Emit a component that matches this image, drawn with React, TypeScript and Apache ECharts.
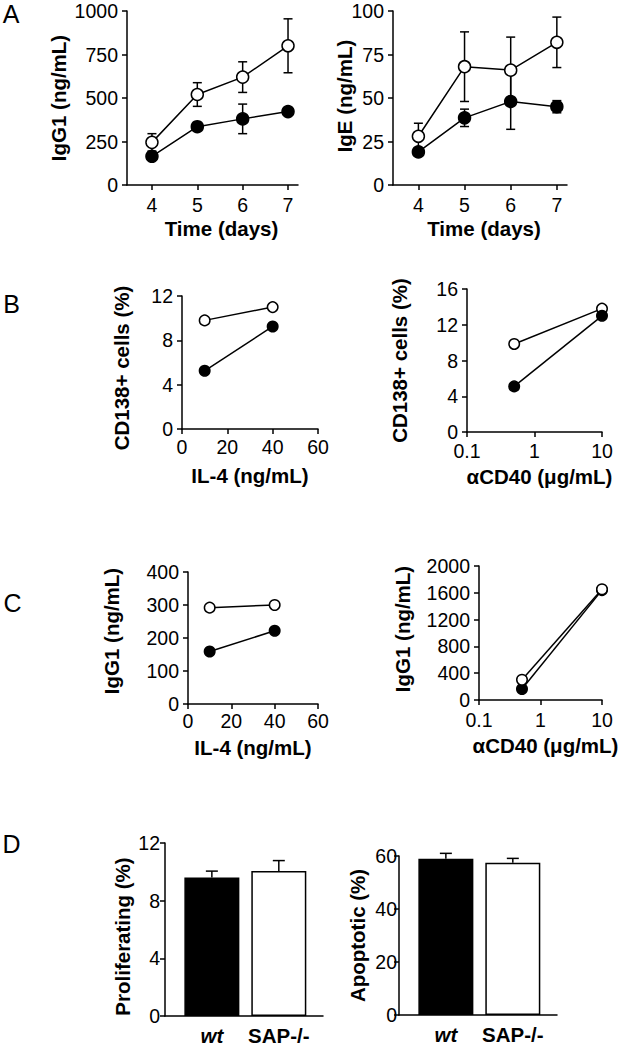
import React, { useEffect, useRef } from 'react';
import * as echarts from 'echarts';

const FONT = 'Liberation Sans, Arial, Helvetica, sans-serif';

// ---- Panel A: time course ----
const days = [4, 5, 6, 7];
const igg1Sap = [245, 520, 620, 800];
const igg1SapErr = [50, 68, 88, 155];
const igg1Wt = [165, 335, 380, 422];
const igg1WtErr = [12, 12, 85, 15];
const igeSap = [28, 68, 66, 82];
const igeSapErr = [7.5, 20, 19, 14.5];
const igeWt = [19, 38.6, 48, 45];
const igeWtErr = [2, 5, 16, 3.5];

// ---- Panel B: CD138+ cells ----
const il4Doses = [10, 40];
const cd138Il4Sap = [9.8, 11.0];
const cd138Il4Wt = [5.25, 9.25];
const cd40Doses = [0.5, 10];
const cd138Cd40Sap = [9.85, 13.8];
const cd138Cd40Wt = [5.1, 13.0];

// ---- Panel C: IgG1 ----
const igg1Il4Sap = [292, 300];
const igg1Il4Wt = [159, 222];
const igg1Cd40Sap = [302, 1653];
const igg1Cd40Wt = [164, 1640];

// ---- Panel D: bars ----
const groups = ['wt', 'SAP-/-'];
const groupPos = [1, 2];
const prolifMean = [9.6, 10.05];
const prolifErr = [0.45, 0.73];
const apopMean = [59.0, 57.5];
const apopErr = [2.0, 1.6];

const TICK_FS = 19.5;
const NAME_FS = 20.5;

const axisLineStyle = { show: true, onZero: false, lineStyle: { color: '#000', width: 1.5 } };
const tickStyle = { show: true, inside: false, length: 5, lineStyle: { color: '#000', width: 1.5 } };
const labelBase = { color: '#000', fontFamily: FONT, fontSize: TICK_FS, lineHeight: 16 };
const nameStyle = { color: '#000', fontFamily: FONT, fontSize: NAME_FS, fontWeight: 'bold' as const };
const plain = (v: number) => String(v);

function yAx(gi: number, min: number, max: number, interval: number, name: string, nameGap: number, labelMargin = 9, pad: number[] = [0, 0, 0, 0]) {
  return {
    type: 'value', gridIndex: gi, min, max, interval,
    name, nameLocation: 'middle', nameGap, nameTextStyle: { ...nameStyle, padding: pad }, nameMoveOverlap: false,
    axisLine: axisLineStyle, axisTick: tickStyle, splitLine: { show: false },
    axisLabel: { ...labelBase, margin: labelMargin, formatter: plain },
  };
}

function xLin(gi: number, min: number, max: number, interval: number, name: string, nameGap: number, labelMargin: number) {
  return {
    type: 'value', gridIndex: gi, min, max, interval,
    name, nameLocation: 'middle', nameGap, nameTextStyle: nameStyle, nameMoveOverlap: false,
    axisLine: axisLineStyle, axisTick: tickStyle, splitLine: { show: false },
    axisLabel: { ...labelBase, margin: labelMargin, formatter: plain },
  };
}

function xLog(gi: number, name: string, nameGap: number, labelMargin: number) {
  return {
    type: 'log', logBase: 10, gridIndex: gi, min: 0.1, max: 10,
    name, nameLocation: 'middle', nameGap, nameTextStyle: { ...nameStyle, padding: [0, 0, 0, 10] }, nameMoveOverlap: false,
    axisLine: axisLineStyle, axisTick: tickStyle, splitLine: { show: false }, minorTick: { show: false },
    axisLabel: { ...labelBase, margin: labelMargin, formatter: plain },
  };
}

function xDays(gi: number, padLeft: number) {
  return {
    type: 'value', gridIndex: gi, min: 3.45, max: 7.22,
    name: 'Time (days)', nameLocation: 'middle', nameGap: 33,
    nameTextStyle: { ...nameStyle, padding: [0, 0, 0, padLeft] }, nameMoveOverlap: false,
    axisLine: axisLineStyle, axisTick: { ...tickStyle, customValues: days }, splitLine: { show: false },
    axisLabel: { ...labelBase, margin: 12, customValues: days, formatter: plain },
  };
}

function xBars(gi: number) {
  return {
    type: 'value', gridIndex: gi, min: 0.3, max: 2.66,
    axisLine: axisLineStyle, axisTick: { show: false }, splitLine: { show: false },
    axisLabel: {
      color: '#000', fontFamily: FONT, fontSize: 20.5, lineHeight: 15, margin: 12, customValues: groupPos,
      formatter: (v: number) => (v === 1 ? '{i|' + groups[0] + '}' : '{b|' + groups[1] + '}'),
      rich: {
        i: { fontFamily: FONT, fontSize: 20.5, lineHeight: 15, fontWeight: 'bold', fontStyle: 'italic', color: '#000' },
        b: { fontFamily: FONT, fontSize: 20.5, lineHeight: 15, fontWeight: 'bold', color: '#000' },
      },
    },
  };
}

function errRender(capHalf: number, upOnly: boolean) {
  return (params: any, api: any) => {
    const x = api.value(0);
    const m = api.value(1);
    const e = api.value(2);
    const p0 = api.coord([x, upOnly ? m : m - e]);
    const p1 = api.coord([x, m + e]);
    const style = { stroke: '#000', lineWidth: 1.5 };
    const children: any[] = [
      { type: 'line', shape: { x1: p0[0], y1: p0[1], x2: p1[0], y2: p1[1] }, style },
      { type: 'line', shape: { x1: p1[0] - capHalf, y1: p1[1], x2: p1[0] + capHalf, y2: p1[1] }, style },
    ];
    if (!upOnly) {
      children.push({ type: 'line', shape: { x1: p0[0] - capHalf, y1: p0[1], x2: p0[0] + capHalf, y2: p0[1] }, style });
    }
    return { type: 'group', children };
  };
}

function errSeries(ai: number, xs: number[], means: number[], errs: number[], capHalf: number, upOnly: boolean, z: number) {
  return {
    type: 'custom', xAxisIndex: ai, yAxisIndex: ai, clip: false, z,
    renderItem: errRender(capHalf, upOnly),
    encode: { x: 0, y: 1 },
    data: xs.map((x, i) => [x, means[i], errs[i]]),
    silent: true,
  };
}

function lineSeries(ai: number, name: string, xs: number[], ys: number[], filled: boolean, size: number) {
  return {
    type: 'line', name, xAxisIndex: ai, yAxisIndex: ai, z: 3,
    data: xs.map((x, i) => [x, ys[i]]),
    symbol: 'circle', symbolSize: size, showSymbol: true,
    itemStyle: { color: filled ? '#000' : '#fff', borderColor: '#000', borderWidth: 1.5 },
    lineStyle: { color: '#000', width: 1.5 },
    emphasis: { disabled: true },
  };
}

function barSeries(ai: number, means: number[]) {
  return {
    type: 'bar', xAxisIndex: ai, yAxisIndex: ai, barWidth: 55, z: 2,
    data: groupPos.map((x, i) => ({
      value: [x, means[i]],
      itemStyle: { color: i === 0 ? '#000' : '#fff', borderColor: '#000', borderWidth: 1.5 },
    })),
    emphasis: { disabled: true },
  };
}

function letter(t: string, x: number, y: number) {
  return {
    type: 'text', x, y,
    style: { text: t, fontFamily: FONT, fontSize: 25, fill: '#000', align: 'center', verticalAlign: 'middle' },
  };
}

export default function App() {
  const ref = useRef<HTMLDivElement>(null);
  useEffect(() => {
    if (!ref.current) return;
    const chart = echarts.init(ref.current, undefined, { renderer: 'svg' });
    const g = (left: number, top: number, width: number, height: number) => ({
      left, top, width, height, containLabel: false, outerBoundsMode: 'none',
    });
    const option: any = {
      animation: false,
      backgroundColor: '#fff',
      grid: [
        g(127, 11, 171, 174),
        g(393, 11, 174, 174),
        g(182, 296, 136, 133),
        g(467, 289, 135, 143),
        g(188, 572, 130, 132),
        g(479, 566, 123, 134),
        g(165, 843, 158, 173),
        g(399, 856, 158, 159),
      ],
      xAxis: [
        xDays(0, 18),
        xDays(1, 8),
        xLin(2, 0, 60, 20, 'IL-4 (ng/mL)', 36, 10),
        xLog(3, '\u03b1CD40 (\u03bcg/mL)', 34, 11),
        xLin(4, 0, 60, 20, 'IL-4 (ng/mL)', 33, 9),
        xLog(5, '\u03b1CD40 (\u03bcg/mL)', 35, 12),
        xBars(6),
        xBars(7),
      ],
      yAxis: [
        yAx(0, 0, 1000, 250, 'IgG1 (ng/mL)', 58),
        yAx(1, 0, 100, 25, 'IgE (ng/mL)', 38, 9, [0, 0, 0, 4]),
        yAx(2, 0, 12, 4, 'CD138+ cells (%)', 50, 9, [0, 11, 0, 0]),
        yAx(3, 0, 16, 4, 'CD138+ cells (%)', 57),
        yAx(4, 0, 400, 100, 'IgG1 (ng/mL)', 66, 9, [0, 0, 0, 14]),
        yAx(5, 0, 2000, 400, 'IgG1 (ng/mL)', 66, 9, [0, 0, 0, 8]),
        yAx(6, 0, 12, 4, 'Proliferating (%)', 32, 5, [0, 14, 0, 0]),
        yAx(7, 0, 60, 20, 'Apoptotic (%)', 31, 2),
      ],
      series: [
        errSeries(0, days, igg1Sap, igg1SapErr, 4.5, false, 1),
        errSeries(0, days, igg1Wt, igg1WtErr, 4.5, false, 1),
        lineSeries(0, 'SAP-/-', days, igg1Sap, false, 12),
        lineSeries(0, 'wt', days, igg1Wt, true, 12),

        errSeries(1, days, igeSap, igeSapErr, 4.5, false, 1),
        errSeries(1, days, igeWt, igeWtErr, 4.5, false, 1),
        lineSeries(1, 'SAP-/-', days, igeSap, false, 12),
        lineSeries(1, 'wt', days, igeWt, true, 12),

        lineSeries(2, 'SAP-/-', il4Doses, cd138Il4Sap, false, 10.5),
        lineSeries(2, 'wt', il4Doses, cd138Il4Wt, true, 10.5),
        lineSeries(3, 'SAP-/-', cd40Doses, cd138Cd40Sap, false, 10.5),
        lineSeries(3, 'wt', cd40Doses, cd138Cd40Wt, true, 10.5),

        lineSeries(4, 'SAP-/-', il4Doses, igg1Il4Sap, false, 10.5),
        lineSeries(4, 'wt', il4Doses, igg1Il4Wt, true, 10.5),
        lineSeries(5, 'wt', cd40Doses, igg1Cd40Wt, true, 10.5),
        lineSeries(5, 'SAP-/-', cd40Doses, igg1Cd40Sap, false, 10.5),

        barSeries(6, prolifMean),
        errSeries(6, groupPos, prolifMean, prolifErr, 6, true, 3),
        barSeries(7, apopMean),
        errSeries(7, groupPos, apopMean, apopErr, 6, true, 3),
      ],
      graphic: [
        letter('A', 11, 14),
        letter('B', 11.5, 303.5),
        letter('C', 12.5, 603),
        letter('D', 11.5, 843.5),
      ],
    };
    chart.setOption(option);
    return () => chart.dispose();
  }, []);
  return (
    <div
      ref={ref}
      style={{ position: 'fixed', left: 0, top: 0, width: 625, height: 1047, background: '#fff' }}
    />
  );
}
